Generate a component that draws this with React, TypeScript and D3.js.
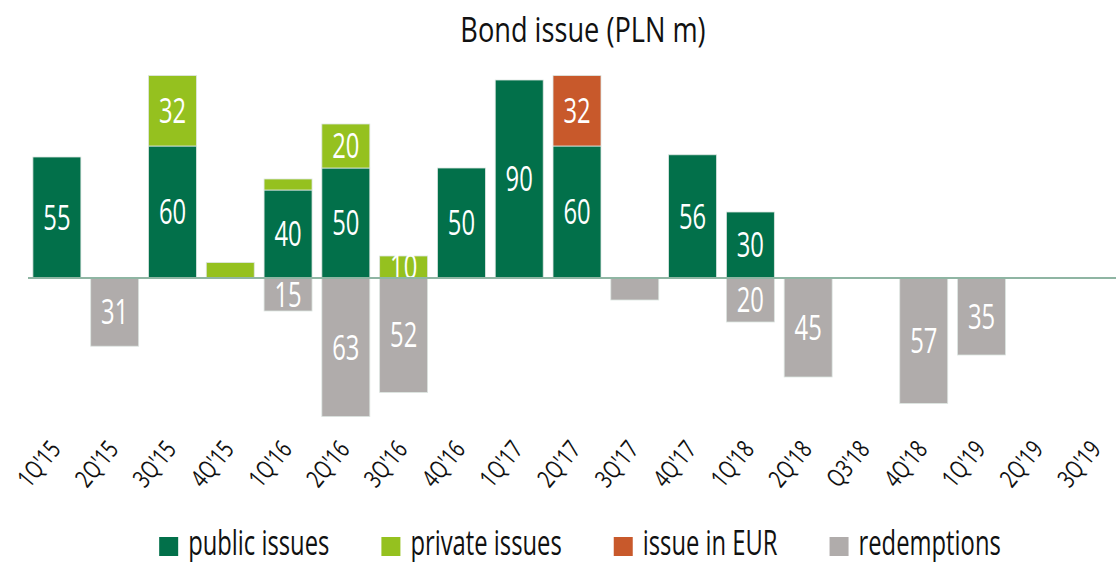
import { useEffect, useRef } from "react";
import * as d3 from "d3";

const quarters = ["1Q'15", "2Q'15", "3Q'15", "4Q'15", "1Q'16", "2Q'16", "3Q'16", "4Q'16", "1Q'17", "2Q'17",
  "3Q'17", "4Q'17", "1Q'18", "2Q'18", "Q3'18", "4Q'18", "1Q'19", "2Q'19", "3Q'19"];
const publicIssues = [55, 0, 60, 0, 40, 50, 0, 50, 90, 60, 0, 56, 30, 0, 0, 0, 0, 0, 0];
const privateIssues = [0, 0, 32, 7, 5, 20, 10, 0, 0, 0, 0, 0, 0, 0, 0, 0, 0, 0, 0];
const issueInEur = [0, 0, 0, 0, 0, 0, 0, 0, 0, 32, 0, 0, 0, 0, 0, 0, 0, 0, 0];
const redemptions = [0, 31, 0, 0, 15, 63, 52, 0, 0, 0, 10, 0, 20, 45, 0, 57, 35, 0, 0];
// segments left without a value label in the original
const unlabeled = ["redemptions|3Q'17"];

const seriesKeys = ["public", "private", "eur", "redemptions"];
const seriesNames = ["public issues", "private issues", "issue in EUR", "redemptions"];
const seriesColors = ["#02704a", "#95c11f", "#c8592b", "#b0acab"];

const FONT = "'Open Sans', sans-serif";
const SX = 0.7; // squeeze text horizontally, the original uses a condensed face

export default function App() {
  const ref = useRef<SVGSVGElement>(null);
  const width = 1116;
  const height = 562;

  useEffect(() => {
    const svg = d3.select(ref.current);
    svg.selectAll("*").remove();

    const table = quarters.map((q, i) => ({
      quarter: q,
      public: publicIssues[i],
      private: privateIssues[i],
      eur: issueInEur[i],
      redemptions: -redemptions[i],
    }));

    const stacked = d3.stack<any>()
      .keys(seriesKeys)
      .offset(d3.stackOffsetDiverging)(table);

    const x = d3.scaleBand().domain(quarters).range([28, 1126]).paddingInner(0.17).paddingOuter(0.085);
    const y = d3.scaleLinear().domain([-70, 100]).range([432, 58]);
    const color = d3.scaleOrdinal<string>().domain(seriesKeys).range(seriesColors);

    // title
    svg.append("text")
      .attr("transform", `translate(583,42) scale(0.8,1)`)
      .attr("text-anchor", "middle")
      .attr("font-family", FONT).attr("font-size", 34)
      .attr("fill", "#111")
      .text("Bond issue (PLN m)");

    const bars = svg.append("g");
    // positive series first, redemptions last so they sit on top
    stacked.forEach((layer) => {
      const g = bars.append("g");
      const pts = layer.filter((d) => d[1] - d[0] !== 0);
      g.selectAll("rect")
        .data(pts)
        .join("rect")
        .attr("x", (d) => x(d.data.quarter)!)
        .attr("width", x.bandwidth())
        .attr("y", (d) => y(Math.max(d[0], d[1])))
        .attr("height", (d) => Math.abs(y(d[0]) - y(d[1])))
        .attr("fill", color(layer.key))
        .attr("stroke", "#dde5e1")
        .attr("stroke-width", 0.8);

      g.selectAll("text")
        .data(pts.filter((d) => Math.abs(d[1] - d[0]) >= 10 && !unlabeled.includes(layer.key + "|" + d.data.quarter)))
        .join("text")
        .attr("transform", (d) =>
          `translate(${x(d.data.quarter)! + x.bandwidth() / 2},${y((d[0] + d[1]) / 2)}) scale(${SX},1)`)
        .attr("dy", "0.36em")
        .attr("text-anchor", "middle")
        .attr("font-family", FONT).attr("font-size", 34)
        .attr("fill", "#fff")
        .text((d) => Math.abs(d[1] - d[0]));
    });

    // zero line
    svg.append("line")
      .attr("x1", x.range()[0]).attr("x2", width)
      .attr("y1", y(0)).attr("y2", y(0))
      .attr("stroke", "#8fb5a3").attr("stroke-width", 2);

    // category labels
    svg.append("g")
      .selectAll("text")
      .data(quarters)
      .join("text")
      .attr("transform", (d) => `translate(${x(d)! + x.bandwidth() / 2 + 5},450) rotate(-50) scale(0.75,1)`)
      .attr("text-anchor", "end")
      .attr("font-family", FONT).attr("font-size", 25)
      .attr("fill", "#111")
      .text((d) => d);

    // legend, centred
    const legend = svg.append("g");
    let cx = 0;
    seriesKeys.forEach((k, i) => {
      const item = legend.append("g").attr("transform", `translate(${cx},0)`);
      item.append("rect").attr("x", 0).attr("y", 537).attr("width", 19).attr("height", 19).attr("fill", seriesColors[i]);
      const t = item.append("text")
        .attr("transform", `translate(29,555) scale(${SX},1)`)
        .attr("font-family", FONT).attr("font-size", 34)
        .attr("fill", "#111")
        .text(seriesNames[i]);
      const w = (t.node() as SVGTextElement).getComputedTextLength() * SX;
      cx += 29 + w + (i < seriesKeys.length - 1 ? 52 : 0);
    });
    legend.attr("transform", `translate(${580 - cx / 2},0)`);
  }, []);

  return (
    <div>
      <svg ref={ref} width={width} height={height}
        style={{ position: "absolute", left: 0, top: 0, background: "#fff" }} />
    </div>
  );
}
